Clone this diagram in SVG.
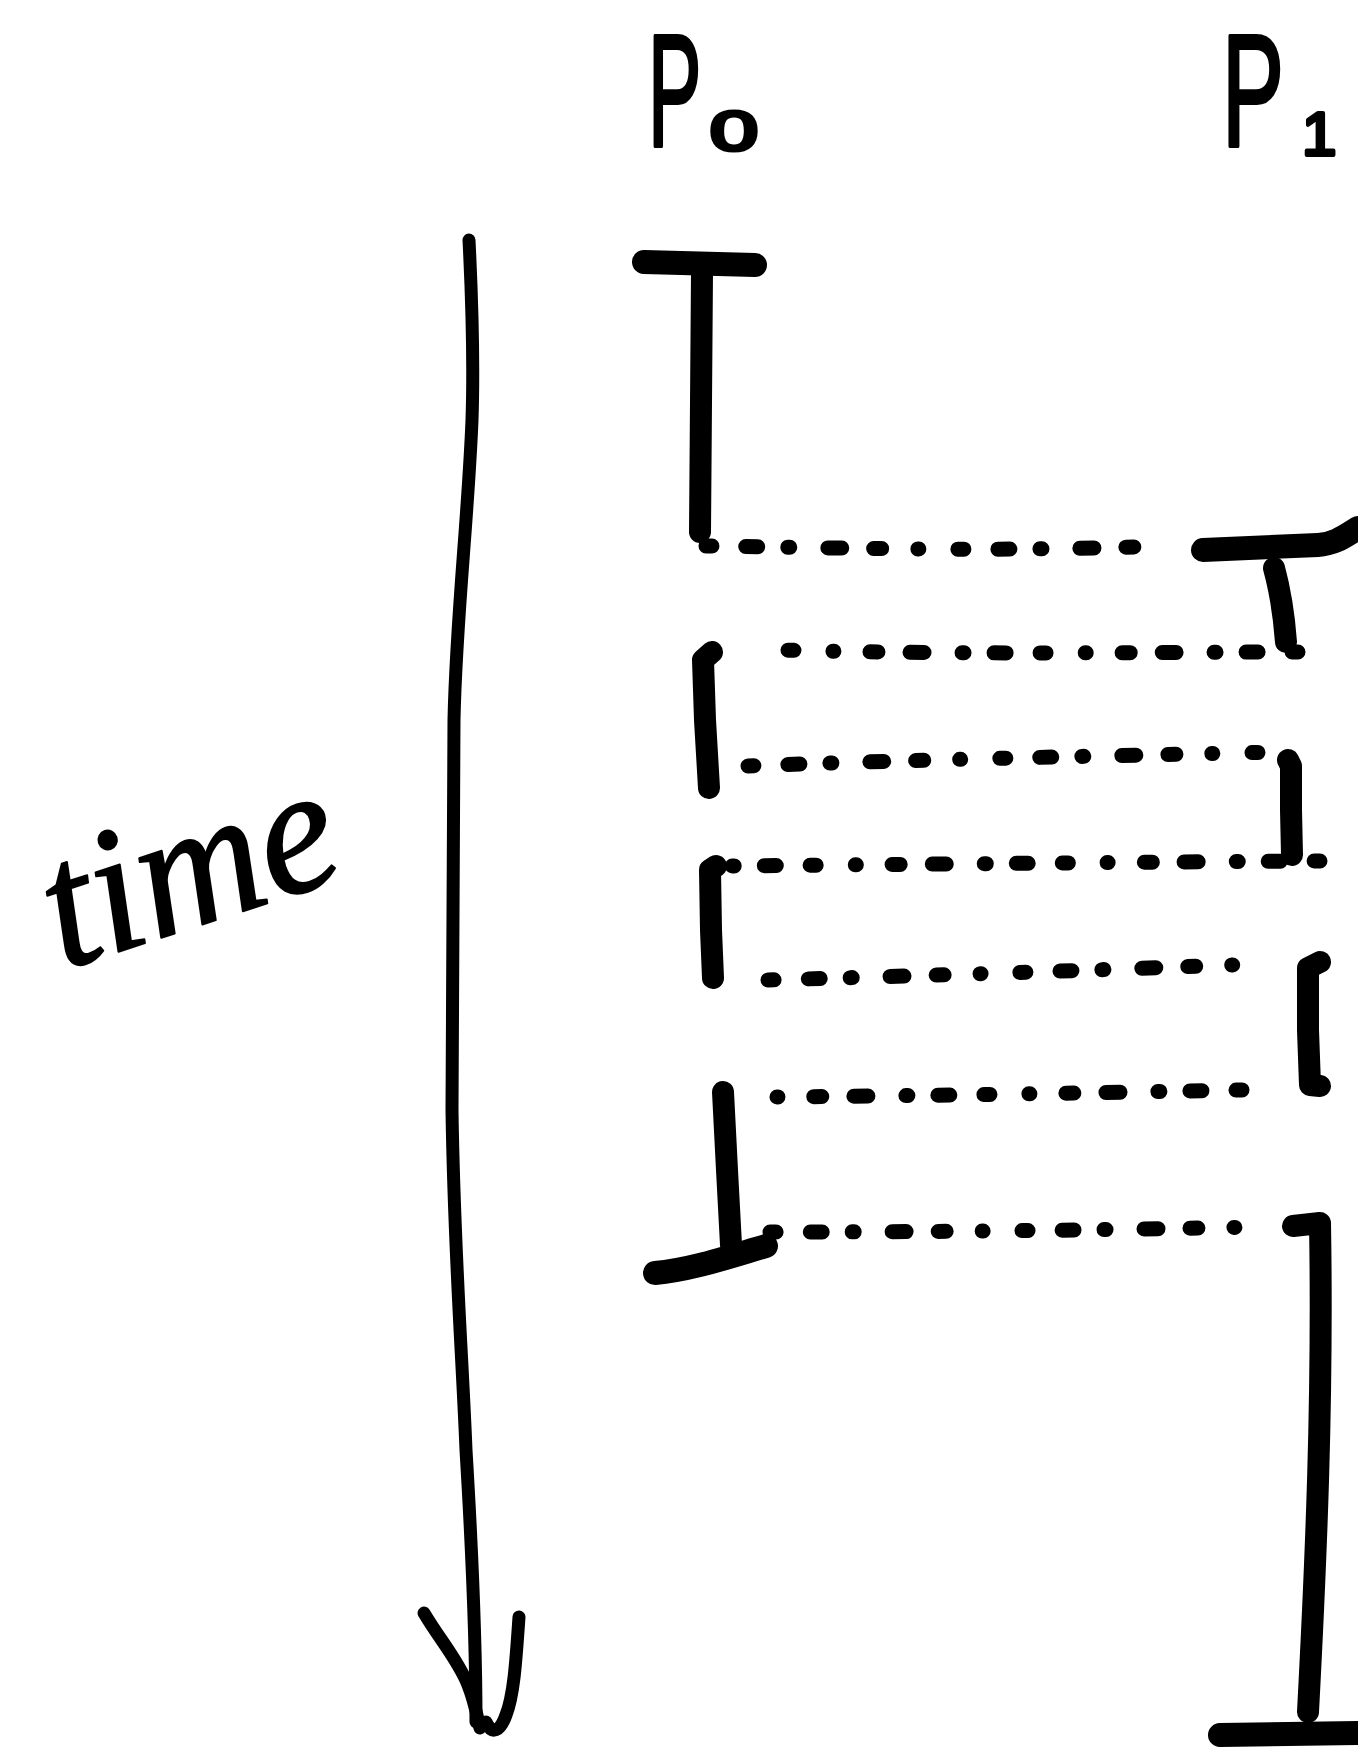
<svg xmlns="http://www.w3.org/2000/svg" width="1358" height="1747" viewBox="0 0 1358 1747">
<style>
.bg{fill:#ffffff}
.lbl{font-family:"Liberation Sans","DejaVu Sans",sans-serif;fill:#000;stroke:#000;stroke-width:4;stroke-linejoin:round}
.hand{font-family:"Liberation Serif","DejaVu Serif",serif;font-style:italic;fill:#000;stroke:#000;stroke-width:2;stroke-linejoin:round}
.axis{fill:none;stroke:#000;stroke-width:13;stroke-linecap:round;stroke-linejoin:round}
.bar{fill:none;stroke:#000;stroke-width:22;stroke-linecap:round;stroke-linejoin:round}
.cap{fill:none;stroke:#000;stroke-width:24;stroke-linecap:round;stroke-linejoin:round}
.dots{fill:none;stroke:#000;stroke-width:15;stroke-linecap:round;stroke-dasharray:6 34 12 30 2 38 14 32 8 36 1 39}
</style>
<rect class="bg" x="0" y="0" width="1358" height="1747"/>

<g id="labels">
  <g id="label-p0">
    <g transform="translate(648,146) scale(0.5,1)"><text class="lbl" x="0" y="0" font-size="160">P</text></g>
    <text class="lbl" x="710" y="150" font-size="56" textLength="48" lengthAdjust="spacingAndGlyphs">0</text>
  </g>
  <g id="label-p1">
    <g transform="translate(1222,146) scale(0.58,1)"><text class="lbl" x="0" y="0" font-size="160">P</text></g>
    <text class="lbl" x="1302" y="155" font-size="62">1</text>
  </g>
  <g id="label-time">
    <text class="hand" x="195" y="925" font-size="180" text-anchor="middle" textLength="300" lengthAdjust="spacingAndGlyphs" transform="rotate(-18 195 890)">time</text>
  </g>
</g>

<g id="time-axis">
  <path class="axis" d="M469,240 C472,300 474,360 472,420 C468,520 456,620 454,720 L452,1110 C454,1250 462,1350 466,1450 C472,1550 476,1650 476,1722"/>
  <path class="axis" d="M424,1613 C440,1640 458,1660 468,1685 C474,1700 477,1715 480,1728"/>
  <path class="axis" d="M519,1617 C516,1660 514,1695 506,1715 C500,1732 492,1735 486,1722"/>
</g>

<g id="p0-bars">
  <g id="p0-seg1">
    <path class="cap" d="M644,262 L755,265"/>
    <path class="bar" d="M702,273 L700,532"/>
  </g>
  <g id="p0-seg2">
    <path class="bar" d="M712,652 L703,660 L705,720 L709,788"/>
  </g>
  <g id="p0-seg3">
    <path class="bar" d="M716,866 L710,870 L711,930 L713,978"/>
  </g>
  <g id="p0-seg4">
    <path class="bar" d="M723,1092 L727,1170 L731,1245"/>
    <path class="cap" d="M655,1273 C690,1270 725,1258 766,1246"/>
  </g>
</g>

<g id="p1-bars">
  <g id="p1-seg1">
    <path class="cap" d="M1203,550 L1318,545 C1335,544 1345,536 1358,528"/>
    <path class="bar" d="M1274,568 C1280,590 1284,615 1286,642"/>
  </g>
  <g id="p1-seg2">
    <path class="bar" d="M1288,760 L1291,766 L1291,810 L1292,855"/>
  </g>
  <g id="p1-seg3">
    <path class="bar" d="M1320,962 L1308,968 L1308,1030 L1310,1085 L1320,1086"/>
  </g>
  <g id="p1-seg4">
    <path class="bar" d="M1293,1226 L1320,1223 C1323,1400 1316,1560 1308,1712"/>
    <path class="cap" d="M1220,1735 L1358,1733"/>
  </g>
</g>

<g id="connectors">
  <path class="dots" d="M706,546 C850,548 1000,552 1160,546"/>
  <path class="dots" d="M1298,652 C1150,652 960,655 783,650"/>
  <path class="dots" d="M748,766 C900,760 1100,756 1280,752"/>
  <path class="dots" d="M1320,861 C1150,862 950,864 722,866"/>
  <path class="dots" d="M768,980 C950,975 1100,970 1256,964"/>
  <path class="dots" d="M1242,1090 C1080,1093 920,1096 766,1097"/>
  <path class="dots" d="M770,1232 C950,1232 1100,1230 1255,1227"/>
</g>
</svg>
